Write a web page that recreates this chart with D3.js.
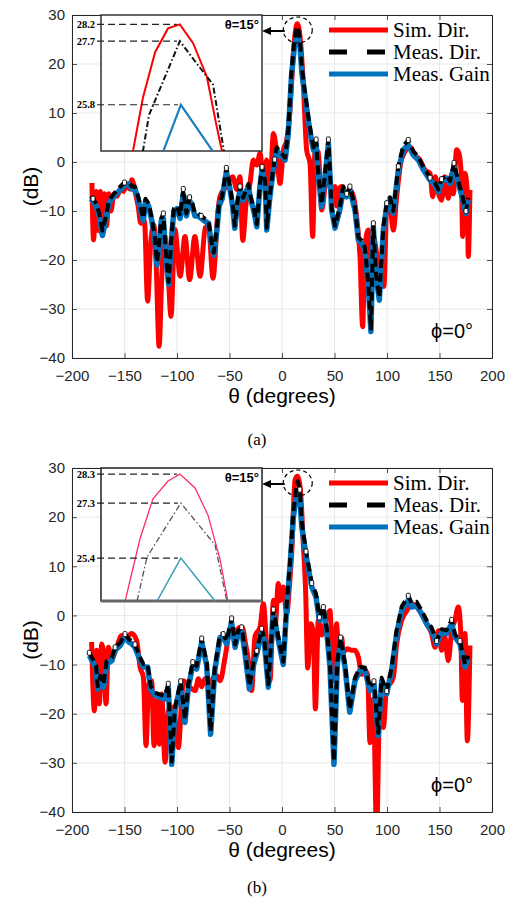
<!DOCTYPE html>
<html><head><meta charset="utf-8">
<script src="https://cdn.jsdelivr.net/npm/d3@7/dist/d3.min.js"></script>
<style>body{margin:0;background:#fff}svg{display:block}</style>
</head><body><svg id="c" width="513" height="906"></svg>
<script>
// ---------- ticks ----------
const thetaTicks = [-200,-150,-100,-50,0,50,100,150,200];
const dbTicks = [-40,-30,-20,-10,0,10,20,30];
const legendLabels = ["Sim. Dir.","Meas. Dir.","Meas. Gain"];

// ---------- panel (a) ----------
const simDirA = [[-181,-4.3],[-179.5,-15.9],[-177,-6],[-175,-14],[-173,-6],[-171,-15],[-169,-6.5],[-167,-13],[-165,-6.5],[-163,-10],[-160,-6.5],[-157,-7],[-154,-5.5],[-151,-6],[-148,-4.5],[-145,-5.5],[-143,-3.6],[-140,-6],[-137,-9],[-134.5,-12.5],[-131,-12],[-128,-28.4],[-125,-16.4],[-122,-12.9],[-120,-20],[-117,-37.6],[-114.6,-24],[-112,-15],[-109.5,-18],[-105.7,-31.5],[-102,-13.8],[-97,-23.3],[-92.4,-15.2],[-88,-24],[-83,-15.2],[-78,-23.3],[-73,-13.4],[-70,-13],[-65.7,-23.7],[-61,-10],[-59,-7],[-53,-5],[-47,-3],[-43,-5.6],[-40,-3],[-37.4,-16],[-34,-8],[-30.5,-4.4],[-27.3,0.4],[-24,-0.6],[-20.9,1.8],[-17.8,-4.4],[-14.6,0.4],[-11.4,-5.2],[-8.2,5.8],[-5,1.8],[-1.9,-4.4],[1.3,2.4],[4.5,4.5],[7.6,10.6],[10.8,22.2],[14.5,28.2],[17.2,25.6],[20.3,16],[23.5,2.4],[26.7,-0.3],[29.2,-15.2],[31.5,2.4],[34.6,2],[37.8,-9.8],[42.6,-3],[47.3,-5.7],[50.5,-5],[52,-9],[53.7,-5.7],[57,-5],[60,-6.5],[64.7,-5.7],[68,-7],[71.7,-12.5],[74.3,-19.3],[76.8,-33.6],[79,-17.3],[82.2,-13.9],[84.4,-21],[87,-15.2],[90.1,-18.5],[93.9,-24],[97.1,-25.4],[99.7,-9.8],[102.8,-9.1],[106,-13.9],[109.2,-7.1],[113,-0.3],[117.1,2.1],[121.9,3.1],[126.5,1.4],[131.4,0.4],[136,-1.6],[141,-2.3],[143.5,-7.1],[146,-3],[149,-6.4],[152,-7.8],[155,-3],[158.4,-7.4],[161.6,-2.4],[163.2,-6.5],[166.3,2.5],[168.5,1.8],[171,-3.7],[172,-15.2],[174.3,-2.3],[176.5,-6.5],[177.4,-19.3],[179,-5.7]];

const measThetaA = [-182,-180,-177,-174,-171,-168,-165,-162,-158,-154,
  -150,-146,-143,-140,-137,-134,-132,-130,-127,-124,
  -121,-119,-117,-115,-113,-111,-108,-105,-103,-100,
  -97,-94,-91,-88,-86,-83,-80,-77,-74,-70,
  -67,-65,-62,-60,-57,-53,-50,-47,-45,-42,
  -40,-37,-34,-32,-30,-27,-24,-21,-19,-16,
  -14.5,-12,-10,-7,-5,-2,0,3,6,9,
  12,14,15,17,19,22,25,28,30,32.5,
  34.6,37.8,41,44.2,47.3,50.5,55,58.4,61.6,64.7,
  69.5,72.7,75.9,79,82.2,84.7,87,89.5,92.7,96.5,
  99.7,102.8,106,110.8,115.5,120.3,125,129.8,134.6,141,
  145.7,148.9,152,156.8,160,163.8,167,171,175.2,177.4];
const measGainA = [-7.5,-8,-9,-11,-15,-12,-8.5,-7.5,-6.5,-5.7,
  -4.7,-4.5,-5.5,-5.5,-7.5,-10.5,-12,-8,-9,-12,
  -16,-21,-17,-12,-11.5,-18,-25,-15,-10,-9.5,
  -11.5,-6.5,-11,-8,-8.5,-11,-11,-11.5,-12,-12.5,
  -17,-19,-14,-9,-7.5,-2,-5,-9,-13.5,-8,
  -5.7,-7.8,-6,-5,-7.5,-9.8,-13.2,-5,-1.6,-4.4,
  -13.9,-8,-4.4,0,2.4,1.5,1.1,0.4,5.8,17.4,
  24,25.5,25.8,24,18,13.3,8.6,4.5,2.4,3.8,
  -3,-9.1,-3,3.8,-9.8,-13.5,-9.8,-5.7,-7.1,-5.7,
  -9.8,-15.9,-16.6,-18,-25.4,-34.6,-13.2,-23.4,-28.2,-13.9,
  -9.1,-7.8,-10.5,-1.6,2.5,3.5,1.4,0.4,-1.6,-3.7,
  -4.7,-6.1,-4,-3.3,-4.4,-1,-3.7,-6.7,-10.5,-7.8];
const measDirA = [-7,-7.5,-8.5,-10.5,-14,-11.5,-8,-7,-6,-5,
  -4.2,-4,-5,-5,-7,-10,-11.5,-7.5,-8.5,-11.5,
  -15.5,-20.5,-16.5,-11.5,-10.5,-17.5,-24.5,-14.5,-9.5,-9,
  -11,-5.5,-10.5,-7.2,-8,-10.5,-10.5,-11,-11.5,-12,
  -16.5,-18.5,-13.5,-8.5,-7,-1.2,-4.5,-8.5,-13,-7.5,
  -5,-7.3,-5.5,-4.5,-7,-9.3,-12.7,-4.5,-1,-4,
  -13.4,-7.5,-4,0.5,3,2,1.6,0.9,6.5,18.2,
  25.2,27.2,27.7,25.3,19,14,9.3,5.3,3,4.6,
  -2.5,-8.6,-2.3,4.6,-9.3,-13,-9.3,-5,-6.5,-5,
  -9.3,-15.4,-16,-17.5,-24.9,-34,-12.5,-22.9,-27.7,-13.4,
  -8.4,-7.2,-10,-0.9,3.3,4.5,2.2,1.1,-1,-3.2,
  -4.2,-5.6,-3.5,-2.7,-3.9,-0.2,-3.2,-6.2,-10,-7.3];
const markerThetaA = [-180,-150,-113,-94,-88,-77,-53,-40,-19,-7,32.5,44.2,61.6,64.7,87,99.7,110.8,120.3,141,152,163.8,175.2];

// inset (a): peak at theta = 15
const insetPeaksA = [28.2,27.7,25.8];
const insetSimA  = [[13.49,24.4],[13.80,26.0],[14.18,27.37],[14.58,28.08],[14.95,28.2],[15.36,27.64],[15.79,26.63],[16.07,25.26],[16.26,24.4]];
const insetDirA  = [[13.80,24.4],[13.99,25.49],[14.95,27.7],[15.42,27.1],[15.98,26.4],[16.32,24.4]];
const insetGainA = [[14.43,24.4],[14.98,25.8],[15.98,24.4]];

// ---------- panel (b) ----------
const simDirB = [[-181.3,-5.4],[-178.7,-19.4],[-176.5,-7.1],[-174,-18],[-171.7,-5.8],[-170.2,-7],[-167.6,-18],[-165.4,-6.5],[-162.2,-8.8],[-157.5,-6.5],[-152.7,-4.1],[-147.9,-4.4],[-143.2,-3.7],[-138.4,-5.1],[-135.2,-10.5],[-132,-12.6],[-129.5,-26.5],[-127,-14],[-124.1,-13.3],[-121.9,-26.5],[-119.4,-17.4],[-116.8,-26.2],[-114.6,-16],[-111.4,-29.9],[-108.3,-19.4],[-103.5,-18.7],[-98.7,-26.9],[-95.6,-17.4],[-94,-13.3],[-89.2,-14.3],[-82.8,-15.3],[-79.6,-12.9],[-76.5,-14.5],[-73.3,-12.9],[-68.5,-14.5],[-65.4,-12.6],[-62.2,-12.3],[-59,-13.3],[-54.2,-8.5],[-49.5,-3.2],[-46,-4],[-43.2,-3],[-40,-2.4],[-37.4,-2.5],[-35,-5.5],[-32,-9.2],[-28.9,-15.3],[-25.7,-4.2],[-20.9,-2.4],[-17.8,2.4],[-14.6,-6],[-11.4,-13.3],[-8.2,3.1],[-6.6,-2.4],[-3.5,6.5],[-1.9,3],[1.3,5.8],[4.5,0.3],[7,5.8],[9.2,12.6],[12.4,27.5],[14.5,28.3],[17.2,26.2],[20.3,14.6],[22.5,5],[24.5,-10.7],[27.3,-1.7],[29.8,-3.7],[31.8,-19],[34.6,-1],[37.8,-4],[42.6,-0.3],[45.7,1],[47,-4],[48.9,-13.3],[52,-1.7],[53.6,-6.5],[56.8,-4.5],[58.4,-7.5],[62,-6.8],[66.2,-7.1],[69.5,-7.1],[72.7,-8.5],[75.9,-12],[79,-11.2],[81.5,-12],[83.8,-25.9],[87,-17],[90.1,-44],[93.2,-17],[96.5,-22.8],[99.7,-14.5],[102.8,-13.9],[106,-12.6],[109.2,-5.8],[114,-1],[119,1],[123.5,2.4],[128.2,1.7],[133,0.3],[137.8,-1.7],[142.5,-3.7],[145.7,-6.5],[149,-3.1],[152,-7.1],[155,-4.4],[158.4,-9.2],[161.6,-3],[164.7,-1],[167.9,1.7],[170.3,-3.7],[171.7,-17.3],[174.3,-3.7],[176.5,-25.5],[179,-6.1]];

const measThetaB = [-183.5,-180,-177,-175.5,-173,-170,-167,-162,-159,-154,
  -149.5,-146,-143,-140,-135,-132,-128,-125,-121,-116,
  -111.4,-108.3,-105,-102,-96.5,-92.4,-89.2,-85,-81.3,-76.5,
  -71.7,-68,-64,-59,-56,-52.7,-48,-44.7,-41.6,-38.4,
  -35.2,-31,-27,-24,-19.4,-17,-13,-8.2,-3.5,1.2,
  4.5,7.6,10.8,14,15,17,18.8,22.9,28.3,32.4,
  35.6,39.4,42.5,45.7,49.5,52.7,55.9,60,64.5,69.5,
  74.3,79,83.8,87.6,91.7,94.9,99.7,104.4,109.2,114,
  120.3,123.5,128.2,133,137.8,142.5,147.3,152,156.8,161.6,
  164.7,169.5,174.3,177.4];
const measGainB = [-8.2,-9.5,-10.9,-15,-12.9,-14.6,-9.9,-9.2,-7.1,-6.1,
  -4.4,-5.4,-5.8,-6.5,-9.2,-10.5,-10.5,-15,-16.3,-16.7,
  -17,-14.6,-30.3,-19.4,-14,-21.8,-14.6,-10.2,-10.9,-5.4,
  -10.2,-24.2,-11.2,-4.5,-4.4,-5.8,-1.4,-6.5,-3.7,-3.1,
  -7.8,-15,-10,-7.8,-3.4,-5,-14.6,0.5,-5,-10,
  1.7,9.9,20,24.8,25.4,24,18,12.2,5.8,3.7,
  -1,1,-3.1,-10.5,-30.3,-9.9,-5.1,-10.5,-19.7,-13.3,
  -11.2,-11.2,-15.3,-14,-24.5,-13.3,-16,-11.2,-3.7,1,
  3.1,1.7,2,0.3,-1.7,-3.1,-5.8,-3.4,-3.7,-1.7,
  -4.4,-5.8,-10.5,-8.8];
const measDirB = [-7.6,-9,-10.3,-14.4,-12.3,-14,-9.3,-8.6,-6.5,-5.5,
  -3.8,-4.8,-5.2,-5.9,-8.6,-9.9,-9.9,-14.4,-15.7,-16.1,
  -16.4,-13.9,-29.7,-18.8,-13.4,-21.2,-14,-9.5,-10.3,-4.7,
  -9.6,-23.6,-10.6,-3.8,-3.8,-5.2,-0.6,-5.9,-3.1,-2.4,
  -7.2,-14.4,-9.4,-7.2,-2.7,-4.4,-14,1.2,-4.4,-9.4,
  2.4,10.7,21,26.5,27.3,25.6,19,13,6.6,4.4,
  -0.4,1.7,-2.5,-9.9,-29.7,-9.3,-4.5,-9.9,-19.1,-12.7,
  -10.5,-10.6,-14.7,-13.4,-23.9,-12.7,-15.4,-10.6,-3,1.8,
  4,2.5,2.8,1,-1,-2.5,-5.2,-2.8,-3,-0.9,
  -3.8,-5.2,-9.9,-8.2];
const markerThetaB = [-183.5,-159,-149.5,-140,-108.3,-96.5,-85,-76.5,-56,-48,-38.4,-24,-19.4,-8.2,17,22.9,28.3,35.6,39.4,55.9,87.6,99.7,120.3,147.3,161.6,169.5];

const insetPeaksB = [28.3,27.3,25.4];
const insetSimB  = [[13.25,23.92],[13.71,26.06],[14.11,27.44],[14.58,28.06],[14.95,28.3],[15.42,27.82],[15.82,26.89],[16.2,25.34],[16.44,23.92]];
const insetDirB  = [[13.62,23.92],[13.93,25.44],[14.98,27.3],[16.04,25.86],[16.41,23.92]];
const insetGainB = [[14.24,23.92],[14.98,25.4],[16.04,23.92]];

// ---------- drawing ----------
const svg = d3.select('#c');
const AX = '#262626';
const SANS = "'Liberation Sans', Arial, sans-serif";
const SERIF = "'Liberation Serif', 'Times New Roman', serif";
const L = 72, R = 492;

function panel(o) {
  const x = d3.scaleLinear().domain([-200,200]).range([L,R]);
  const y = d3.scaleLinear().domain([-40,30]).range([o.bottom,o.top]);
  const g = svg.append('g');
  const cid = 'clip' + o.id;
  svg.append('clipPath').attr('id',cid).append('rect')
    .attr('x',L).attr('y',o.top).attr('width',R-L).attr('height',o.bottom-o.top);

  // grid
  g.append('g').selectAll('line').data(thetaTicks).join('line')
    .attr('x1',d=>x(d)).attr('x2',d=>x(d)).attr('y1',o.top).attr('y2',o.bottom)
    .attr('stroke','#e3e3e3').attr('stroke-width',0.8);
  g.append('g').selectAll('line').data(dbTicks).join('line')
    .attr('y1',d=>y(d)).attr('y2',d=>y(d)).attr('x1',L).attr('x2',R)
    .attr('stroke','#e3e3e3').attr('stroke-width',0.8);

  const lines = g.append('g').attr('clip-path',`url(#${cid})`);
  const simLine = d3.line().x(d=>x(d[0])).y(d=>y(d[1])).curve(d3.curveMonotoneX);
  lines.append('path').attr('d',simLine(o.sim)).attr('fill','none')
    .attr('stroke','#ff0000').attr('stroke-width',5).attr('stroke-linejoin','round');
  const gainPts = o.theta.map((t,i)=>[t,o.gain[i]]);
  const dirPts = o.theta.map((t,i)=>[t,o.dir[i]]);
  const mLine = d3.line().x(d=>x(d[0])).y(d=>y(d[1]));
  lines.append('path').attr('d',mLine(gainPts)).attr('fill','none')
    .attr('stroke','#0072bd').attr('stroke-width',5.5).attr('stroke-linejoin','round');
  lines.append('path').attr('d',mLine(dirPts)).attr('fill','none')
    .attr('stroke','#000').attr('stroke-width',4).attr('stroke-dasharray','9,5')
    .attr('stroke-linejoin','round');
  // small open markers on measured directivity
  const mk = o.markers.map(t=>[t,o.dir[o.theta.indexOf(t)]]);
  lines.append('g').selectAll('rect').data(mk).join('rect')
    .attr('x',d=>x(d[0])-2).attr('y',d=>y(d[1])-2.5).attr('width',4).attr('height',5)
    .attr('rx',1.2).attr('fill','#fff').attr('stroke','#000').attr('stroke-width',0.9);

  // axes
  const ax = g.append('g').attr('font-family',SANS);
  const xb = ax.append('g').attr('transform',`translate(0,${o.bottom})`)
    .call(d3.axisBottom(x).tickValues(thetaTicks).tickSizeInner(-5).tickSizeOuter(0).tickPadding(12));
  const xt = ax.append('g').attr('transform',`translate(0,${o.top})`)
    .call(d3.axisTop(x).tickValues(thetaTicks).tickSizeInner(-5).tickSizeOuter(0).tickFormat(''));
  const yl = ax.append('g').attr('transform',`translate(${L},0)`)
    .call(d3.axisLeft(y).tickValues(dbTicks).tickSizeInner(-5).tickSizeOuter(0).tickPadding(7));
  const yr = ax.append('g').attr('transform',`translate(${R},0)`)
    .call(d3.axisRight(y).tickValues(dbTicks).tickSizeInner(-5).tickSizeOuter(0).tickFormat(''));
  [xb,xt,yl,yr].forEach(a=>{
    a.selectAll('path').attr('stroke',AX).attr('stroke-width',1);
    a.selectAll('line').attr('stroke',AX).attr('stroke-width',0.8);
    a.selectAll('text').attr('fill',AX).attr('font-size',15).attr('font-family',SANS);
  });

  // axis labels
  g.append('text').attr('x',(L+R)/2).attr('y',o.bottom+45).attr('text-anchor','middle')
    .attr('font-family',SANS).attr('font-size',21).attr('fill','#000').text('θ (degrees)');
  g.append('text').attr('transform',`translate(38,${(o.top+o.bottom)/2}) rotate(-90)`)
    .attr('text-anchor','middle').attr('font-family',SANS).attr('font-size',21).attr('fill','#000').text('(dB)');
  g.append('text').attr('x',431).attr('y',o.bottom-20).attr('font-family',SANS)
    .attr('font-size',20).attr('fill','#000').text('ϕ=0°');
  g.append('text').attr('x',257).attr('y',o.capY).attr('text-anchor','middle')
    .attr('font-family',SERIF).attr('font-size',17).attr('fill','#000').text(o.caption);

  // legend
  const lg = g.append('g');
  const ly = [o.top+15, o.top+37, o.top+59];
  const styles = [
    {c:'#ff0000',w:5,d:null},{c:'#000',w:5,d:'18,20'},{c:'#0072bd',w:5,d:null}];
  legendLabels.forEach((lab,i)=>{
    lg.append('line').attr('x1',329).attr('x2',388).attr('y1',ly[i]).attr('y2',ly[i])
      .attr('stroke',styles[i].c).attr('stroke-width',styles[i].w)
      .attr('stroke-dasharray',styles[i].d);
    lg.append('text').attr('x',393).attr('y',ly[i]+7).attr('font-family',SERIF)
      .attr('font-size',21).attr('fill','#000').text(lab);
  });

  // peak annotation: dashed circle + arrow
  const py = o.top+15;
  g.append('ellipse').attr('cx',x(15)).attr('cy',py).attr('rx',14.5).attr('ry',13)
    .attr('fill','none').attr('stroke','#000').attr('stroke-width',1.2).attr('stroke-dasharray','4,3');
  g.append('line').attr('x1',x(15)-13).attr('x2',268).attr('y1',py+1).attr('y2',py+1)
    .attr('stroke','#000').attr('stroke-width',2);
  g.append('path').attr('d',`M262,${py+1} L271,${py-3} L271,${py+5} Z`).attr('fill','#000');

  // inset
  const ix0 = 101, ix1 = 262, iy0 = o.top, iy1 = o.insetBottom;
  const sx = d3.scaleLinear().domain([12.5,17.5]).range([ix0,ix1]);
  const sy = d3.scaleLinear().domain(o.insetDomain).range([iy1,iy0]);
  const ig = g.append('g');
  ig.append('rect').attr('x',ix0).attr('y',iy0).attr('width',ix1-ix0).attr('height',iy1-iy0)
    .attr('fill','#fff').attr('stroke',o.insetBorder).attr('stroke-width',1.5);
  if (o.insetThickBottom) {
    ig.append('line').attr('x1',ix0).attr('x2',ix1).attr('y1',iy1).attr('y2',iy1)
      .attr('stroke','#666').attr('stroke-width',3);
  }
  const icid = 'iclip'+o.id;
  svg.append('clipPath').attr('id',icid).append('rect')
    .attr('x',ix0).attr('y',iy0).attr('width',ix1-ix0).attr('height',iy1-iy0);
  const il = ig.append('g').attr('clip-path',`url(#${icid})`);
  const iline = d3.line().x(d=>sx(d[0])).y(d=>sy(d[1]));
  il.append('path').attr('d',iline(o.iSim)).attr('fill','none')
    .attr('stroke',o.iCol[0]).attr('stroke-width',o.iW);
  il.append('path').attr('d',iline(o.iDir)).attr('fill','none')
    .attr('stroke',o.iCol[1]).attr('stroke-width',o.iW).attr('stroke-dasharray','6,2.5,1.5,2.5');
  il.append('path').attr('d',iline(o.iGain)).attr('fill','none')
    .attr('stroke',o.iCol[2]).attr('stroke-width',o.iW+0.2);
  const peakX = [o.iSim, o.iDir, o.iGain].map(s=>sx(s.reduce((a,b)=>b[1]>a[1]?b:a)[0]));
  o.peaks.forEach((v,i)=>{
    ig.append('line').attr('x1',97).attr('x2',peakX[i]-3).attr('y1',sy(v)).attr('y2',sy(v))
      .attr('stroke','#222').attr('stroke-width',1.2).attr('stroke-dasharray','7,4');
    ig.append('text').attr('x',95).attr('y',sy(v)+3.5).attr('text-anchor','end')
      .attr('font-family',SERIF).attr('font-weight','bold').attr('font-size',10.5)
      .attr('fill','#000').text(v.toFixed(1));
  });
  ig.append('text').attr('x',259).attr('y',o.top+14).attr('text-anchor','end')
    .attr('font-family',SANS).attr('font-weight','bold').attr('font-size',13)
    .attr('fill','#000').text('θ=15°');
}

panel({id:'a', top:15, bottom:358, capY:445, caption:'(a)',
  sim:simDirA, theta:measThetaA, gain:measGainA, dir:measDirA, markers:markerThetaA,
  insetBottom:151, insetDomain:[24.42,28.48], peaks:insetPeaksA,
  iSim:insetSimA, iDir:insetDirA, iGain:insetGainA,
  iCol:['#ff0000','#111','#1a7fc0'], iW:2, insetBorder:'#333', insetThickBottom:false});
panel({id:'b', top:468, bottom:812, capY:893, caption:'(b)',
  sim:simDirB, theta:measThetaB, gain:measGainB, dir:measDirB, markers:markerThetaB,
  insetBottom:601, insetDomain:[23.92,28.51], peaks:insetPeaksB,
  iSim:insetSimB, iDir:insetDirB, iGain:insetGainB,
  iCol:['#ff3060','#555','#3a9fb5'], iW:1.3, insetBorder:'#222', insetThickBottom:true});
</script></body></html>
